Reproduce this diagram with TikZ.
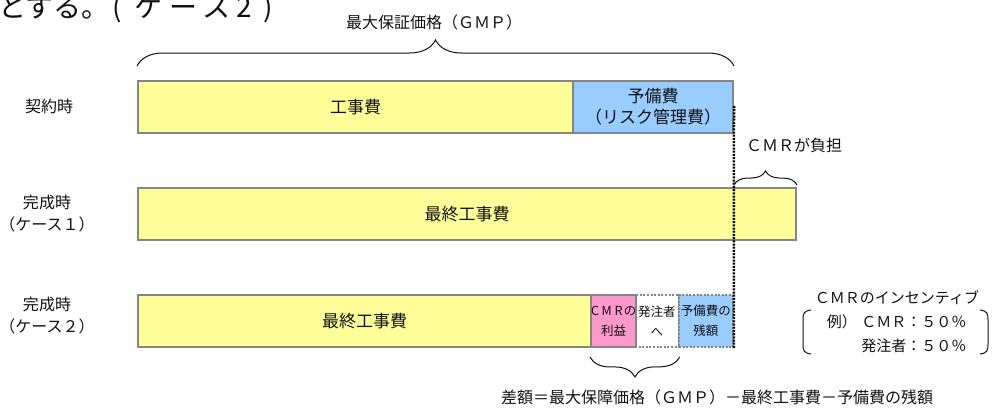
\documentclass[tikz,border=0pt]{standalone}
\usepackage{fontspec}
\setmainfont{Noto Sans CJK JP}
\usetikzlibrary{decorations.pathreplacing,calc}
\definecolor{yel}{HTML}{FFFF99}
\definecolor{blu}{HTML}{99CCFF}
\definecolor{pnk}{HTML}{FF99CC}
\definecolor{segline}{HTML}{858585}
\definecolor{ink}{HTML}{111111}
\tikzset{
  seg/.style={draw=segline, line width=2pt, minimum height=52pt, inner sep=0pt,
    anchor=north west, font=\fontsize{17}{21}\selectfont, align=center, text=ink},
  dseg/.style={seg, dash pattern=on 2pt off 1.6pt, line width=1.8pt},
  lbl/.style={font=\fontsize{16}{22}\selectfont, align=center, text=ink},
  tiny/.style={font=\fontsize{12.5}{20}\selectfont, align=center},
  vdot/.style={draw=black, line width=2.5pt, dash pattern=on 2pt off 1.2pt},
  bracel/.style={draw=ink, line width=1pt, decorate, decoration={brace, amplitude=#1}},
  paren/.style={draw=ink, line width=1pt}
}
\begin{document}
\begin{tikzpicture}[x=1pt,y=-1pt]
\useasboundingbox (0,0) rectangle (995,408);
\clip (0,0) rectangle (995,408);

% cut-off heading
\node[anchor=base west, inner sep=0pt, font=\fontsize{28}{30}\selectfont, text=ink] (head) at (-2,17) {とする。\hspace{0.1em}(\hspace{0.45em}ケ\hspace{0.25em}ー\hspace{0.2em}ス\hspace{0.2em}2\hspace{0.4em})};

% row labels
\node[lbl] (l1) at (49,106) {契約時};
\node[lbl] (l2) at (47,214) {完成時\\（ケース１）};
\node[lbl] (l3) at (47,316) {完成時\\（ケース２）};

% row 1
\node[seg, fill=yel, minimum width=435pt] (k1) at (137,80) {工事費};
\node[seg, fill=blu, minimum width=160pt] (k2) at (572,80) {予備費\\（リスク管理費）};

% row 2
\node[seg, fill=yel, minimum width=658pt] (c1) at (137,187) {最終工事費};

% row 3
\node[seg, fill=yel, minimum width=453pt] (f1) at (137,294) {最終工事費};
\node[dseg, fill=white, minimum width=44pt, tiny] (f3) at (634,294) {発注者\\へ};
\node[dseg, fill=blu, minimum width=54pt, tiny] (f4) at (678,294) {予備費の\\残額};
\node[seg, fill=pnk, minimum width=44pt, tiny] (f2) at (590,294) {C\hspace{0.22em}M\hspace{0.22em}R\hspace{0.1em}の\\利益};

% dotted limit line
\coordinate (dtop) at ($(k2.north east)!0.48!(k2.south east)$);
\draw[vdot] (dtop) -- (f4.south east);

% top brace
\draw[bracel=26pt] ($(k1.north west)+(0,-14)$) -- ($(k2.north east)+(0,-14)$);
\node[lbl] (gmp) at (434,22) {最大保証価格（ＧＭＰ）};

% CMR burden brace
\draw[bracel=14pt] ($(k2.east |- c1.north)+(0,-2)$) -- ($(c1.north east)+(0,-2)$);
\node[lbl] (cmrb) at (794,145) {ＣＭＲが負担};

% bottom brace
\draw[bracel=20pt] ($(f3.south east)+(0,9)$) -- ($(f2.south west)+(0,9)$);
\node[lbl] (diff) at (717,397) {差額＝最大保障価格（ＧＭＰ）－最終工事費－予備費の残額};

% incentive note
\node[lbl, font=\fontsize{15}{20}\selectfont] (inc1) at (897,298) {ＣＭＲのインセンティブ};
\node[lbl, font=\fontsize{15}{20}\selectfont, anchor=east] (inc2) at (970,322) {例）\hspace{0.3em}ＣＭＲ：５０％};
\node[lbl, font=\fontsize{15}{20}\selectfont, anchor=east] (inc3) at (970,346) {発注者：５０％};
\draw[paren] (811,310) .. controls (804,311) and (803,313) .. (803,320) -- (803,344) .. controls (803,351) and (804,353) .. (811,354);
\draw[paren] (980,310) .. controls (987,311) and (988,313) .. (988,320) -- (988,344) .. controls (988,351) and (987,353) .. (980,354);
\end{tikzpicture}
\end{document}
